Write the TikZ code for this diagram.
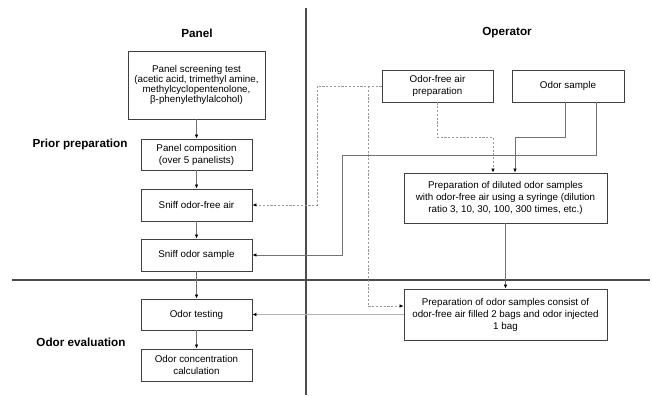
\documentclass[tikz,border=0pt]{standalone}
\usepackage{fontspec}
\setmainfont{Liberation Sans}
\usetikzlibrary{arrows.meta}

\tikzset{
  procbox/.style={draw=black!75, line width=0.9pt, minimum width=111pt, minimum height=32pt,
    align=center, inner sep=2pt, font=\fontsize{9.8}{12}\selectfont},
  heading/.style={font=\fontsize{11.7}{14}\selectfont\bfseries},
  divider/.style={draw=black!70, line width=1.3pt},
  link/.style={draw=black!55, line width=0.8pt, -{Latex[length=4pt,width=3.6pt,color=black]}},
  airlink/.style={link, draw=black!40, dash pattern=on 2.2pt off 1.6pt},
  feedlink/.style={link, draw=black!30, line width=1.5pt}
}

\begin{document}
\begin{tikzpicture}[x=1pt, y=-1pt]
        \useasboundingbox (0,0) rectangle (652,396);

        % Column and phase dividers
        \draw[divider] (306,8) -- (306,395);
        \draw[divider] (12,280) -- (650,280);

        % Headings
        \node[heading] (panelhead) at (197,33) {Panel};
        \node[heading] (ophead) at (507,33) {Operator};
        \node[heading] (priorhead) at (80,144) {Prior preparation};
        \node[heading] (evalhead) at (81,342) {Odor evaluation};

        % Panel side
        \node[procbox, minimum width=137pt, minimum height=68pt,
              font=\fontsize{9.8}{10.2}\selectfont] (screen) at (196.5,85)
              {Panel screening test\\(acetic acid, trimethyl amine,\\methylcyclopentenolone,\\β-phenylethylalcohol)};
        \node[procbox, minimum height=31pt] (compose) at (196.5,154.5) {Panel composition\\(over 5 panelists)};
        \node[procbox] (sniffair) at (196.5,205) {Sniff odor-free air};
        \node[procbox] (sniffodor) at (196.5,255) {Sniff odor sample};
        \node[procbox, minimum height=31pt] (testing) at (196.5,314.5) {Odor testing};
        \node[procbox] (calc) at (196.5,365) {Odor concentration\\calculation};

        % Operator side
        \node[procbox] (freeair) at (437.5,86) {Odor-free air\\preparation};
        \node[procbox, minimum width=112pt] (odorsmp) at (568,86) {Odor sample};
        \node[procbox, minimum width=203pt, minimum height=50pt] (dilute) at (505.5,198)
              {Preparation of diluted odor samples\\with odor-free air using a syringe (dilution\\ratio 3, 10, 30, 100, 300 times, etc.)};
        \node[procbox, minimum width=203pt, minimum height=51pt] (bagprep) at (505.5,314.5)
              {Preparation of odor samples consist of\\odor-free air filled 2 bags and odor injected\\1 bag};

        % Bends
        \coordinate (airsplit) at (368,86);
        \coordinate (airbend) at (317,86);
        \coordinate (sampbend) at (342,155);

        % Panel flow
        \draw[link] (screen) -- (compose);
        \draw[link] (compose) -- (sniffair);
        \draw[link] (sniffair) -- (sniffodor);
        \draw[link] (sniffodor) -- (testing);
        \draw[link] (testing) -- (calc);

        % Odor-free air
        \draw[airlink, -] (freeair.west) -- (airbend);
        \draw[airlink] (airbend) |- (sniffair.east);
        \draw[airlink] (airsplit) |- ([yshift=8.5pt]bagprep.west);
        \draw[airlink] (freeair.south) -- ++(0,35) -| ([xshift=-12.5pt]dilute.north);

        % Odor sample
        \draw[link] ([xshift=-3pt]odorsmp.south) -- ++(0,35) -| ([xshift=9.5pt]dilute.north);
        \draw[link, -] ([xshift=28pt]odorsmp.south) |- (sampbend);
        \draw[link] (sampbend) |- (sniffodor.east);

        % Samples to testing
        \draw[link] (dilute) -- (bagprep);
        \draw[feedlink] (bagprep.west) -- (testing.east);

    \end{tikzpicture}
\end{document}
